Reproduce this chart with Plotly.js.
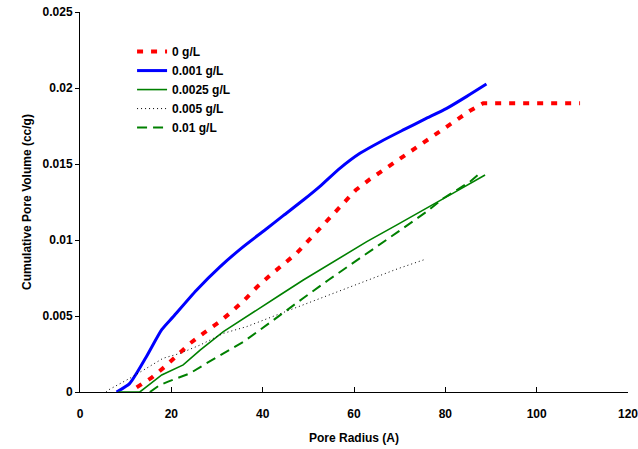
<!DOCTYPE html>
<html>
<head>
<meta charset="utf-8">
<script src="https://cdn.plot.ly/plotly-3.0.1.min.js"></script>
<style>html,body{margin:0;padding:0;background:#fff;}#chart{width:638px;height:449px;}</style>
</head>
<body>
<div id="chart"></div>
<script>
// Pore radius (A) and cumulative pore volume (cc/g) for each concentration
const x0 = [12.4, 15.7, 18.6, 21.2, 24.1, 27.0, 30.3, 33.2, 36.0, 38.7, 41.6, 47.4, 52.5, 57.7, 60.4, 63.5, 66.4, 69.7, 73.0, 75.9, 79.2, 82.1, 85.4, 88.3, 95, 102, 109.5];
const y0 = [0.0003, 0.00094, 0.00167, 0.00243, 0.0032, 0.00386, 0.00456, 0.00528, 0.00605, 0.00689, 0.00767, 0.00912, 0.01077, 0.01241, 0.01329, 0.0140, 0.0146, 0.01526, 0.01592, 0.01658, 0.01724, 0.01785, 0.0185, 0.0190, 0.0190, 0.0190, 0.0190];

const x1 = [8.0, 10.9, 14.5, 17.9, 20.4, 25.5, 30.7, 35.5, 40.5, 44.5, 48.9, 52.8, 56.9, 61.3, 66.0, 70.8, 75.5, 80.3, 84.7, 89.0];
const y1 = [0.0, 0.00057, 0.0023, 0.0041, 0.00495, 0.0067, 0.00825, 0.0095, 0.01066, 0.0116, 0.01263, 0.0136, 0.01471, 0.0157, 0.01650, 0.01724, 0.01795, 0.01866, 0.01945, 0.02026];

const x2 = [8.4, 13.1, 14.6, 17.9, 22.6, 26.3, 31.4, 38.0, 43.8, 48.9, 55.8, 62.8, 69.3, 75.9, 82.3, 88.7];
const y2 = [0.0, 0.0, 0.00035, 0.00112, 0.00178, 0.00276, 0.00397, 0.00528, 0.00638, 0.00737, 0.00862, 0.00989, 0.01098, 0.01208, 0.01318, 0.01428];

const x3 = [5.7, 6.2, 10.9, 14.6, 18.2, 21.9, 26.3, 31.4, 36.5, 43.1, 53.0, 63.5, 69.5, 75.8];
const y3 = [0.0, 0.00013, 0.0009, 0.00156, 0.00222, 0.00254, 0.00309, 0.00386, 0.0043, 0.00507, 0.0062, 0.0074, 0.0081, 0.00875];

const x4 = [15.3, 17.5, 19.3, 24.1, 27.7, 32.1, 35.8, 39.4, 43.8, 49.0, 54.4, 62.4, 69.7, 75.9, 79.5, 85.4, 87.6];
const y4 = [0.0, 0.00046, 0.00068, 0.00123, 0.00189, 0.00265, 0.00331, 0.00408, 0.00507, 0.0062, 0.00737, 0.00901, 0.01055, 0.01186, 0.01273, 0.01383, 0.0144];

const seriesNames = ['0 g/L', '0.001 g/L', '0.0025 g/L', '0.005 g/L', '0.01 g/L'];

const traces = [
  {x: x0, y: y0, name: seriesNames[0], mode: 'lines', line: {color: '#ff0000', width: 4, dash: '6px,8px'}},
  {x: x1, y: y1, name: seriesNames[1], mode: 'lines', line: {color: '#0000ff', width: 3, shape: 'spline', smoothing: 0.6}},
  {x: x2, y: y2, name: seriesNames[2], mode: 'lines', line: {color: '#008000', width: 1.6}},
  {x: x3, y: y3, name: seriesNames[3], mode: 'lines', line: {color: '#000000', width: 1, dash: '1px,3px'}},
  {x: x4, y: y4, name: seriesNames[4], mode: 'lines', line: {color: '#008000', width: 2, dash: '10px,6px'}}
];

const boldFont = {family: 'Liberation Sans, Arial, sans-serif', size: 12, color: '#000', weight: 'bold'};

const layout = {
  width: 638, height: 449,
  margin: {l: 80, r: 10, t: 12, b: 57},
  paper_bgcolor: '#fff', plot_bgcolor: '#fff',
  showlegend: true,
  legend: {x: 0.095, y: 0.934, xanchor: 'left', yanchor: 'top', bgcolor: 'rgba(0,0,0,0)', font: boldFont, tracegroupgap: 0, itemwidth: 30},
  xaxis: {
    range: [0, 120], dtick: 20, tick0: 0,
    showgrid: false, zeroline: false, showline: true, linecolor: '#000', linewidth: 1,
    ticks: 'inside', ticklen: 5, tickcolor: '#000',
    tickfont: boldFont, ticklabelstandoff: 11, ticklabeloverflow: 'allow',
    title: {text: 'Pore Radius (A)', font: boldFont, standoff: 13}
  },
  yaxis: {
    range: [0, 0.025], dtick: 0.005, tick0: 0,
    showgrid: false, zeroline: false, showline: true, linecolor: '#000', linewidth: 1,
    ticks: 'outside', ticklen: 4, tickcolor: '#000',
    tickfont: boldFont,
    title: {text: 'Cumulative Pore Volume (cc/g)', font: boldFont, standoff: 8}
  }
};

Plotly.newPlot('chart', traces, layout, {displayModeBar: false, staticPlot: true});
</script>
</body>
</html>
